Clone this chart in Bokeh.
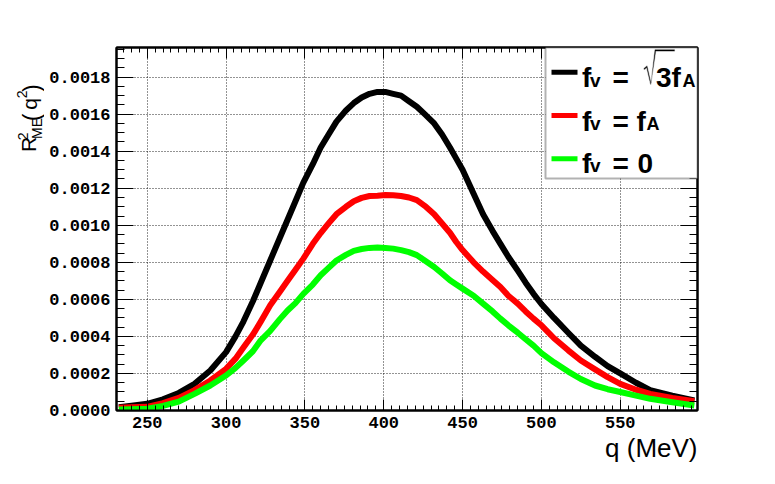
import numpy as np
from bokeh.plotting import figure
from bokeh.layouts import row
from bokeh.models import (Range1d, FixedTicker, LinearAxis, Label, BoxAnnotation,
                          PolyAnnotation, PrintfTickFormatter, Title)
from bokeh.core.properties import value
from bokeh.embed import file_html
from bokeh.resources import INLINE

# ---------------- data ----------------
q = [232, 240, 250, 260, 270, 280, 290, 300, 306, 311, 317, 322, 328, 334, 339, 344,
     349, 355, 360, 365, 370, 376, 381, 386, 391, 396, 401, 406, 411, 416, 421, 426,
     432, 437, 442, 446, 450, 457, 463, 469, 474, 479, 485, 490, 495, 500, 508, 517,
     525, 534, 542, 550, 560, 569, 583, 597]
r_sqrt3 = [0.000018, 0.000026, 0.000036, 0.00006, 0.000095, 0.000144, 0.000216, 0.000315,
           0.0004, 0.00048, 0.00059, 0.00069, 0.00081, 0.00093, 0.00103, 0.00113,
           0.00123, 0.00133, 0.00142, 0.00149, 0.00156, 0.00162, 0.00166, 0.00169,
           0.00171, 0.00172, 0.00172, 0.00171, 0.0017, 0.00167, 0.00164, 0.0016,
           0.00155, 0.00149, 0.00142, 0.00136, 0.0013, 0.00117, 0.00106, 0.00097,
           0.0009, 0.00083, 0.000755, 0.00069, 0.00063, 0.000575, 0.0005, 0.00042,
           0.00035, 0.00029, 0.00024, 0.0002, 0.00015, 0.00011, 0.00008, 0.000054]
r_equal = [0.000015, 0.000017, 0.00002, 0.00004, 0.000068, 0.00011, 0.000162, 0.000225,
           0.00028, 0.00034, 0.00041, 0.00048, 0.000568, 0.00064, 0.0007, 0.00076,
           0.00082, 0.0009, 0.000958, 0.00101, 0.00106, 0.0011, 0.00113, 0.001148,
           0.001158, 0.00116, 0.001163, 0.001162, 0.001158, 0.00115, 0.001136, 0.001105,
           0.00106, 0.00101, 0.00096, 0.00091, 0.000866, 0.0008, 0.00075, 0.000705,
           0.000667, 0.00062, 0.000577, 0.000535, 0.000496, 0.00046, 0.00039, 0.000325,
           0.00027, 0.000222, 0.00018, 0.000144, 0.000112, 0.00009, 0.000068, 0.00005]
r_zero = [0.000005, 0.000007, 0.00001, 0.000025, 0.000048, 0.00009, 0.000135, 0.000189,
          0.00023, 0.00027, 0.00032, 0.000379, 0.00043, 0.000492, 0.00054, 0.00058,
          0.00063, 0.00068, 0.00073, 0.00077, 0.00081, 0.00084, 0.000862, 0.000872,
          0.000878, 0.00088, 0.000878, 0.000874, 0.000866, 0.000855, 0.000839, 0.00081,
          0.000775, 0.00074, 0.000703, 0.00068, 0.000658, 0.00062, 0.000577, 0.000535,
          0.000496, 0.00046, 0.00042, 0.000385, 0.00035, 0.00031, 0.00026, 0.00021,
          0.00017, 0.000135, 0.000115, 0.0001, 0.00008, 0.000063, 0.000045, 0.000027]

x_ticks = [250, 300, 350, 400, 450, 500, 550]
y_ticks = [0.0, 0.0002, 0.0004, 0.0006, 0.0008, 0.0010, 0.0012, 0.0014, 0.0016, 0.0018]
x_title = "q (MeV)"
series_colors = ["#000000", "#ff0000", "#00ff00"]

# ---------------- layout (page pixel coords) ----------------
H = 476
TW = 44                       # width of the y-title strip
W = 759 - TW                  # main figure width
F_LEFT, F_RIGHT, F_TOP, F_BOTTOM = 116, 697, 47, 410   # frame on the page

p = figure(width=W, height=H, x_range=Range1d(230.5, 599), y_range=Range1d(0, 0.00196),
           output_backend="svg", toolbar_location=None,
           min_border_left=F_LEFT - TW, min_border_right=TW + W - F_RIGHT,
           min_border_top=F_TOP, min_border_bottom=H - F_BOTTOM,
           background_fill_color="white", border_fill_color="white")
p.outline_line_color = "black"
p.outline_line_width = 2

x_minor = [float(v) for v in np.arange(230, 600, 5) if v % 50 != 0]
y_minor = [float(v) for v in np.arange(0, 0.00196, 0.00005)]

p.add_layout(LinearAxis(), "right")
p.add_layout(LinearAxis(), "above")

def style(ax, tin, tmin, ticks, minor, show):
    ax.ticker = FixedTicker(ticks=ticks, minor_ticks=minor)
    ax.major_tick_in = tin
    ax.major_tick_out = 0
    ax.minor_tick_in = tmin
    ax.minor_tick_out = 0
    ax.major_tick_line_color = "black"
    ax.minor_tick_line_color = "black"
    ax.major_tick_line_width = 1
    ax.minor_tick_line_width = 1
    ax.axis_line_color = "black"
    ax.axis_line_width = 2
    if show:
        ax.major_label_text_font = "Liberation Mono"
        ax.major_label_text_font_style = "bold"
        ax.major_label_text_font_size = "17px"
        ax.major_label_text_color = "black"
    else:
        ax.major_label_text_font_size = "1px"
        ax.major_label_text_alpha = 0.0
        ax.major_label_standoff = 0

style(p.below[0], 11, 5, x_ticks, x_minor, True)
style(p.above[0], 11, 5, x_ticks, x_minor, False)
style(p.left[0], 17, 8, y_ticks, y_minor, True)
style(p.right[0], 17, 8, y_ticks, y_minor, False)
p.below[0].major_label_standoff = 6
p.left[0].major_label_standoff = 6
p.left[0].formatter = PrintfTickFormatter(format="%.4f")

p.xgrid.ticker = FixedTicker(ticks=x_ticks)
p.ygrid.ticker = FixedTicker(ticks=y_ticks)
for g in (p.xgrid[0], p.ygrid[0]):
    g.grid_line_color = "black"
    g.grid_line_width = 1
    g.grid_line_dash = "1 2"
    g.grid_line_alpha = 0.85

for ys, c in zip([r_sqrt3, r_equal, r_zero], series_colors):
    p.line(q, ys, line_color=c, line_width=6, line_join="round")

# x title below the axis
p.add_layout(Title(text=x_title, align="right", text_font="Liberation Sans",
                   text_font_size="26px", text_font_style="normal",
                   text_color="black", standoff=0), "below")

# ---------------- legend (screen units = frame relative, y up) ----------------
LABEL_DY = 9.5   # Label baselines render this much lower than requested

def sx(px):
    return px - F_LEFT

def sy(py):
    return F_BOTTOM - py

def lab(x, py, text, size, bold=False, font="Liberation Sans"):
    p.add_layout(Label(x=x, y=sy(py - LABEL_DY), x_units="screen", y_units="screen",
                       text=text, text_font=font, text_font_size=f"{size}px",
                       text_font_style="bold" if bold else "normal",
                       text_color="black", text_align="left",
                       text_baseline="alphabetic"))

def sbox(l, r, t, b, color):
    p.add_layout(BoxAnnotation(left=sx(l), right=sx(r), top=sy(t), bottom=sy(b),
                               left_units="screen", right_units="screen",
                               top_units="screen", bottom_units="screen",
                               fill_color=color, fill_alpha=1.0, line_color=None))

p.add_layout(BoxAnnotation(left=sx(545), right=sx(697), top=sy(47), bottom=sy(178),
                           left_units="screen", right_units="screen",
                           top_units="screen", bottom_units="screen",
                           fill_color="white", fill_alpha=1.0,
                           line_color="black", line_width=2))

baselines = [86.7, 130, 172]          # page y of text baselines
swatch_y = [71.7, 115, 158.3]
for base, yc, c in zip(baselines, swatch_y, series_colors):
    sbox(551, 577, yc - 2.5, yc + 2.5, c)
    lab(sx(581.5), base, "f", 28, bold=True)
    lab(sx(589.5), base + 2.5, "v", 19, bold=True)
    lab(sx(612), base, "=", 28, bold=True)

# row 1: sqrt(3) f_A  -- radical sign drawn as a thin path
rad_x = [643.5, 646.5, 650.5, 654.5, 674, 674, 655.2, 650.2, 646.2, 643.8]
rad_y = [68, 65.5, 83, 49.3, 49.3, 50.6, 50.6, 84, 67, 69]
p.add_layout(PolyAnnotation(xs=[sx(v) for v in rad_x], ys=[sy(v) for v in rad_y],
                            xs_units="screen", ys_units="screen",
                            fill_color="black", fill_alpha=1.0,
                            line_color="black", line_width=1.2))
lab(sx(655.5), baselines[0], "3", 28, bold=True)
lab(sx(671), baselines[0], "f", 28, bold=True)
lab(sx(682), baselines[0] + 3, "A", 18, bold=True)
# row 2: f_A
lab(sx(636), baselines[1], "f", 28, bold=True)
lab(sx(646), baselines[1] + 3, "A", 18, bold=True)
# row 3: 0
lab(sx(637), baselines[2], "0", 28, bold=True)

# ---------------- y title strip: R^2_ME(q^2) ----------------
t = figure(width=TW, height=H, x_range=Range1d(0, TW), y_range=Range1d(0, H),
           output_backend="svg", toolbar_location=None, x_axis_type=None,
           y_axis_type=None, min_border=0, min_border_left=0, min_border_right=0,
           min_border_top=0, min_border_bottom=0, outline_line_color=None,
           background_fill_color="white", border_fill_color="white")
t.xgrid.visible = False
t.ygrid.visible = False
pieces = [  # (baseline x, start y on page, text, size)
    (27.5, 137, "R", 21),
    (22, 121.7, "2", 14),
    (36.5, 120, "ME", 14),
    (31, 96.7, "(", 23),
    (29, 81.7, "q", 21),
    (21, 66.7, "2", 14),
    (31, 58.3, ")", 23),
]
for bx, by, txt, size in pieces:
    t.text(x=[bx], y=[H - by], text=[txt], angle=np.pi / 2,
           text_font=value("Liberation Sans"), text_font_size=value(f"{size}px"),
           text_color="black", text_align="left", text_baseline="alphabetic")

layout = row(t, p, spacing=0)
open("out.html", "w").write(file_html(layout, INLINE))
